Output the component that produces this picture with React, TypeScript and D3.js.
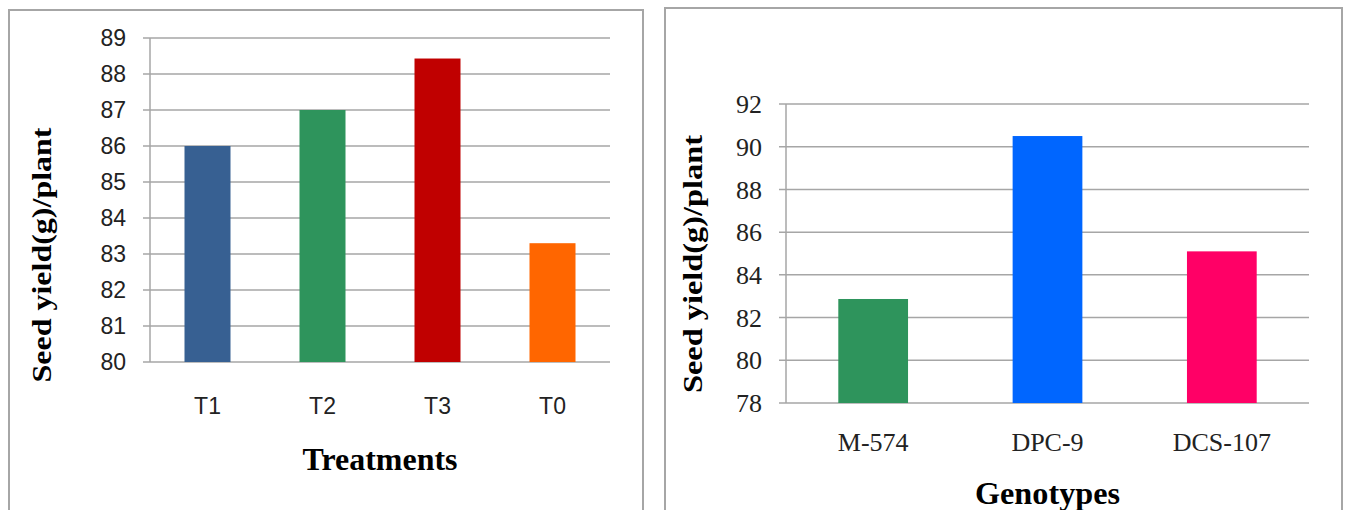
import React from 'react';
import * as d3 from 'd3';

const treatments = ['T1', 'T2', 'T3', 'T0'];
const treatmentYield = [86.0, 87.0, 88.43, 83.3];
const treatmentColors = ['#376092', '#2e945c', '#c00000', '#ff6600'];
const treatmentTicks = [80, 81, 82, 83, 84, 85, 86, 87, 88, 89];

const genotypes = ['M-574', 'DPC-9', 'DCS-107'];
const genotypeYield = [82.87, 90.5, 85.1];
const genotypeColors = ['#2e945c', '#0066ff', '#ff0066'];
const genotypeTicks = [78, 80, 82, 84, 86, 88, 90, 92];

const W = 1346;
const H = 510;
const GRID = '#a6a6a6';
const SERIF = "'Liberation Serif', 'Times New Roman', serif";

interface PanelProps {
  frame: { x: number; y: number; w: number };
  plot: { left: number; right: number; top: number; bottom: number };
  cats: string[];
  values: number[];
  colors: string[];
  ticks: number[];
  tickFont: string;
  tickSize: number;
  catY: number;
  xTitle: string;
  xTitleY: number;
  xTitleLen: number;
  yTitleX: number;
  yTitleY: number;
  yTitleLen: number;
}

function Panel(p: PanelProps) {
  const x = d3.scaleBand<string>().domain(p.cats).range([p.plot.left, p.plot.right]).paddingInner(0.6).paddingOuter(0.3);
  const y = d3.scaleLinear()
    .domain([p.ticks[0], p.ticks[p.ticks.length - 1]])
    .range([p.plot.bottom, p.plot.top]);
  return (
    <g>
      <rect x={p.frame.x} y={p.frame.y} width={p.frame.w} height={H + 20} fill="#fff" stroke={GRID} strokeWidth={2} />
      {p.ticks.map(t => (
        <g key={t}>
          <line x1={p.plot.left - 7} x2={p.plot.right} y1={y(t)} y2={y(t)} stroke={GRID} strokeWidth={1.5} />
          <text x={p.plot.left - 24} y={y(t)} dy="0.35em" textAnchor="end" fontFamily={p.tickFont} fontSize={p.tickSize} fill="#222">{t}</text>
        </g>
      ))}
      <line x1={p.plot.left} x2={p.plot.left} y1={p.plot.top} y2={p.plot.bottom} stroke={GRID} strokeWidth={1.5} />
      {p.cats.map((c, i) => (
        <g key={c}>
          <rect x={x(c)} y={y(p.values[i])} width={x.bandwidth()} height={p.plot.bottom - y(p.values[i])} fill={p.colors[i]} />
          <text x={(x(c) ?? 0) + x.bandwidth() / 2} y={p.catY} dy="0.35em" textAnchor="middle" fontFamily={p.tickFont} fontSize={p.tickSize} fill="#222">{c}</text>
        </g>
      ))}
      <text x={(p.plot.left + p.plot.right) / 2 - p.xTitleLen / 2} y={p.xTitleY} fontFamily={SERIF} fontWeight="bold" fontSize={31}
        textLength={p.xTitleLen} lengthAdjust="spacingAndGlyphs" fill="#000">{p.xTitle}</text>
      <text transform={`translate(${p.yTitleX},${p.yTitleY + p.yTitleLen / 2}) rotate(-90)`} fontFamily={SERIF} fontWeight="bold" fontSize={27}
        textLength={p.yTitleLen} lengthAdjust="spacingAndGlyphs" fill="#000">Seed yield(g)/plant</text>
    </g>
  );
}

export default function App() {
  return (
    <svg width={W} height={H} style={{ position: 'absolute', left: 0, top: 0, background: '#fff' }}>
      <Panel
        frame={{ x: 9, y: 10, w: 634 }}
        plot={{ left: 150, right: 610, top: 38, bottom: 362 }}
        cats={treatments}
        values={treatmentYield}
        colors={treatmentColors}
        ticks={treatmentTicks}
        tickFont="'Liberation Sans', Arial, sans-serif"
        tickSize={23}
        catY={406}
        xTitle="Treatments"
        xTitleY={470}
        xTitleLen={155}
        yTitleX={51}
        yTitleY={255}
        yTitleLen={255}
      />
      <Panel
        frame={{ x: 665, y: 8, w: 677 }}
        plot={{ left: 786, right: 1309, top: 104, bottom: 403 }}
        cats={genotypes}
        values={genotypeYield}
        colors={genotypeColors}
        ticks={genotypeTicks}
        tickFont={SERIF}
        tickSize={26}
        catY={442}
        xTitle="Genotypes"
        xTitleY={504}
        xTitleLen={145}
        yTitleX={702}
        yTitleY={264}
        yTitleLen={258}
      />
    </svg>
  );
}
